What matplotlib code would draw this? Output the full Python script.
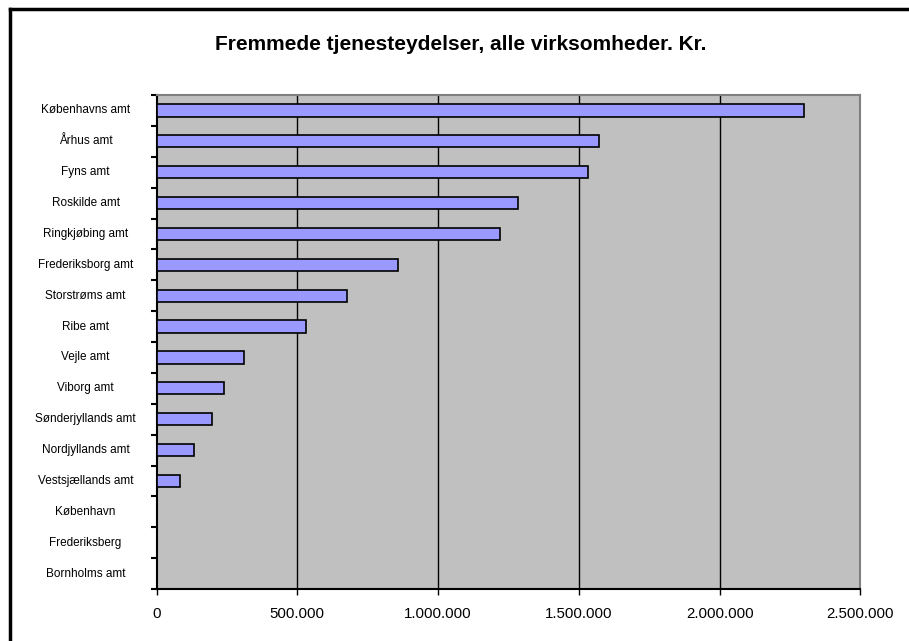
import matplotlib
matplotlib.use("Agg")
import matplotlib.pyplot as plt
from matplotlib.ticker import FuncFormatter

plt.rcParams['font.family'] = ['Liberation Sans', 'DejaVu Sans']

# Data (top to bottom)
amter = ["Københavns amt", "Århus amt", "Fyns amt", "Roskilde amt",
         "Ringkjøbing amt", "Frederiksborg amt", "Storstrøms amt", "Ribe amt",
         "Vejle amt", "Viborg amt", "Sønderjyllands amt", "Nordjyllands amt",
         "Vestsjællands amt", "København", "Frederiksberg", "Bornholms amt"]
kroner = [2299000, 1572000, 1533000, 1285000, 1220000, 859000, 675000, 532000,
          312000, 241000, 198000, 133000, 85000, 0, 0, 0]
x_ticks = [0, 500000, 1000000, 1500000, 2000000, 2500000]

fig = plt.figure(figsize=(9.09, 6.41), dpi=100)
ax = fig.add_axes([156.5 / 909, 1 - 589 / 641, 704 / 909, 494 / 641])
ax.set_facecolor('#C0C0C0')

pos = list(range(len(amter)))
ax.barh(pos, kroner, height=0.4, color='#9999FF', edgecolor='black',
        linewidth=1.2, zorder=3)

ax.set_ylim(len(amter) - 0.5, -0.5)
ax.set_xlim(0, 2500000)

# Gridlines
for v in x_ticks[1:-1]:
    ax.axvline(v, color='black', linewidth=1, zorder=1)

# x axis
ax.set_xticks(x_ticks)
ax.xaxis.set_major_formatter(FuncFormatter(lambda v, p: f"{int(v):,}".replace(",", ".")))
ax.tick_params(axis='x', direction='out', length=4, width=1, pad=9, labelsize=10.8)

# y axis: ticks between categories, labels centered
ax.set_yticks([p - 0.5 for p in pos] + [len(amter) - 0.5])
ax.set_yticklabels([])
ax.tick_params(axis='y', direction='out', length=4, width=1.5)
for p, name in zip(pos, amter):
    ax.annotate(name, xy=(0, p), xycoords=('axes fraction', 'data'),
                xytext=(85.5 / 909, 0), textcoords=('figure fraction', 'offset points'),
                ha='center', va='center', fontsize=8.5)

for side in ['top', 'right']:
    ax.spines[side].set_color('#808080')
    ax.spines[side].set_linewidth(1.5)
for side in ['left', 'bottom']:
    ax.spines[side].set_color('black')
    ax.spines[side].set_linewidth(1.5)

fig.text(461 / 909, 1 - 44.5 / 641, "Fremmede tjenesteydelser, alle virksomheder. Kr.",
         ha='center', va='center', fontsize=15, fontweight='bold')

# chart frame (left and top edges visible)
fig.add_artist(plt.Line2D([10 / 909, 10 / 909], [0, 1 - 9 / 641], color='black',
                          linewidth=2.5, transform=fig.transFigure))
fig.add_artist(plt.Line2D([10 / 909, 1], [1 - 9 / 641, 1 - 9 / 641], color='black',
                          linewidth=2.5, transform=fig.transFigure))

fig.savefig("out.png", dpi=100)
